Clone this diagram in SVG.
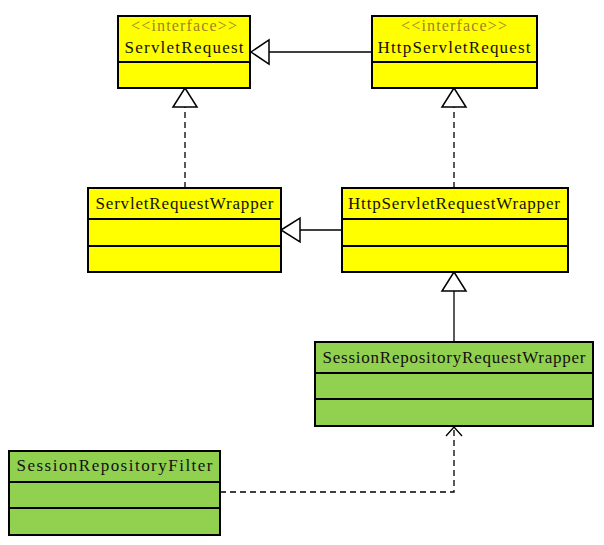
<svg xmlns="http://www.w3.org/2000/svg" width="604" height="545" viewBox="0 0 604 545">
<style>
.y{fill:#FFFF00;stroke:#000;stroke-width:2}
.g{fill:#92D050;stroke:#000;stroke-width:2}
.d{stroke:#000;stroke-width:2}
.t{font-family:"Liberation Serif","DejaVu Serif",serif;font-size:17px;fill:#111;text-anchor:middle}
.s{font-family:"Liberation Serif","DejaVu Serif",serif;font-size:16px;fill:#9A8628;text-anchor:middle}
.c{fill:none;stroke:#000;stroke-width:1.3}
.dash{stroke-dasharray:6 4}
.tri{fill:#fff;stroke:#000;stroke-width:1.5}
</style>
<rect width="604" height="545" fill="#fff"/>
<g id="connectors">
  <line class="c" x1="372" y1="52" x2="269" y2="52"/>
  <polygon class="tri" points="251,52 269,40 269,64"/>
  <line class="c dash" x1="185" y1="188" x2="185" y2="107"/>
  <polygon class="tri" points="185,88 173,107 197,107"/>
  <line class="c dash" x1="454" y1="188" x2="454" y2="107"/>
  <polygon class="tri" points="454,88 442,107 466,107"/>
  <line class="c" x1="342" y1="230" x2="300" y2="230"/>
  <polygon class="tri" points="281,230 300,218 300,242"/>
  <line class="c" x1="454" y1="342" x2="454" y2="291"/>
  <polygon class="tri" points="454,272 442,291 466,291"/>
  <polyline class="c dash" points="220,492 454,492 454,427"/>
  <polyline class="c" points="446,436 454,427 462,436"/>
</g>
<g id="ServletRequest">
  <rect class="y" x="118" y="16" width="132" height="72"/>
  <line class="d" x1="118" y1="62" x2="250" y2="62"/>
  <text class="s" x="184" y="31" textLength="106" lengthAdjust="spacing">&lt;&lt;interface&gt;&gt;</text>
  <text class="t" x="184" y="53" textLength="119" lengthAdjust="spacing">ServletRequest</text>
</g>
<g id="HttpServletRequest">
  <rect class="y" x="372" y="16" width="165" height="72"/>
  <line class="d" x1="372" y1="62" x2="537" y2="62"/>
  <text class="s" x="454" y="31" textLength="106" lengthAdjust="spacing">&lt;&lt;interface&gt;&gt;</text>
  <text class="t" x="454" y="53" textLength="153" lengthAdjust="spacing">HttpServletRequest</text>
</g>
<g id="ServletRequestWrapper">
  <rect class="y" x="88" y="188" width="193" height="84"/>
  <line class="d" x1="88" y1="219" x2="281" y2="219"/>
  <line class="d" x1="88" y1="246" x2="281" y2="246"/>
  <text class="t" x="184.5" y="209" textLength="178" lengthAdjust="spacing">ServletRequestWrapper</text>
</g>
<g id="HttpServletRequestWrapper">
  <rect class="y" x="342" y="188" width="226" height="84"/>
  <line class="d" x1="342" y1="219" x2="568" y2="219"/>
  <line class="d" x1="342" y1="246" x2="568" y2="246"/>
  <text class="t" x="454" y="209" textLength="212" lengthAdjust="spacing">HttpServletRequestWrapper</text>
</g>
<g id="SessionRepositoryRequestWrapper">
  <rect class="g" x="315" y="342" width="278" height="84"/>
  <line class="d" x1="315" y1="373" x2="593" y2="373"/>
  <line class="d" x1="315" y1="399" x2="593" y2="399"/>
  <text class="t" x="454" y="363" textLength="263" lengthAdjust="spacing">SessionRepositoryRequestWrapper</text>
</g>
<g id="SessionRepositoryFilter">
  <rect class="g" x="9" y="451" width="211" height="84"/>
  <line class="d" x1="9" y1="482" x2="220" y2="482"/>
  <line class="d" x1="9" y1="508" x2="220" y2="508"/>
  <text class="t" x="114.5" y="471" textLength="196" lengthAdjust="spacing">SessionRepositoryFilter</text>
</g>
</svg>
